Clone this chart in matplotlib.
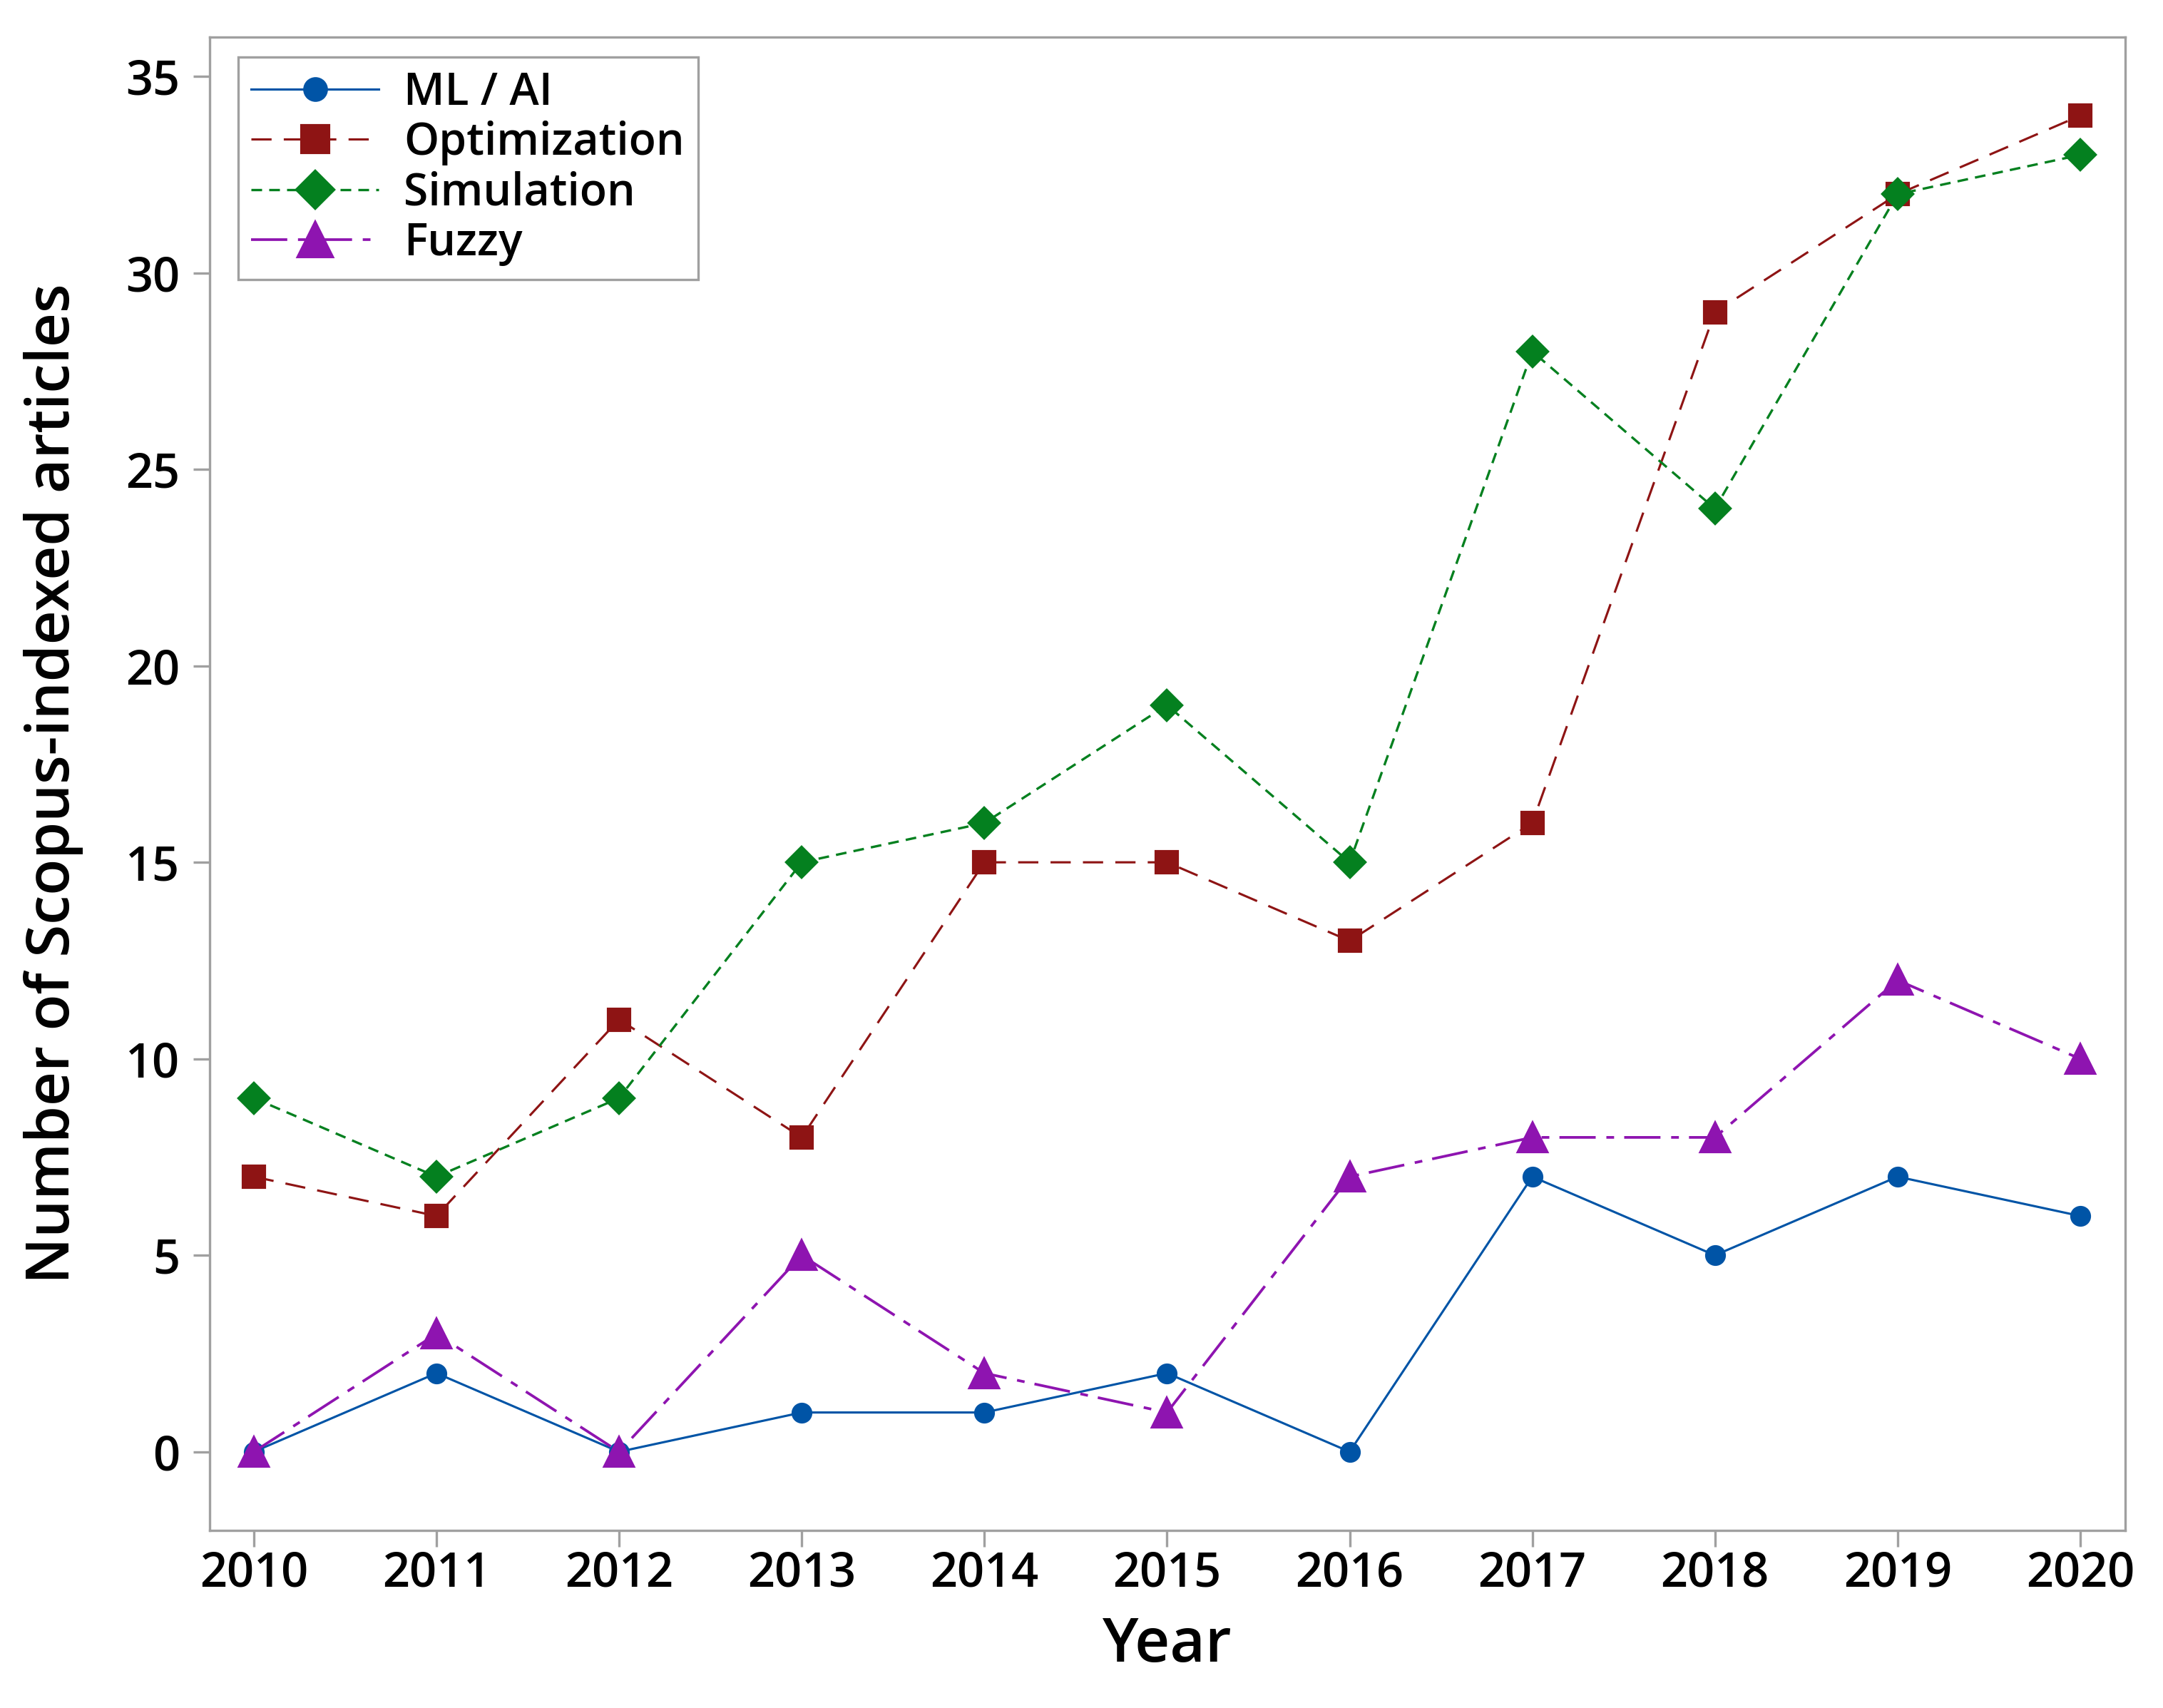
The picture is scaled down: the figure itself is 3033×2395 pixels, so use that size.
import matplotlib
matplotlib.use("Agg")
import matplotlib.pyplot as plt

plt.rcParams['font.family'] = ['Open Sans', 'DejaVu Sans']
plt.rcParams['font.weight'] = 'semibold'
plt.rcParams['axes.labelweight'] = 'semibold'
plt.rcParams['lines.scale_dashes'] = False

years = [2010, 2011, 2012, 2013, 2014, 2015, 2016, 2017, 2018, 2019, 2020]
ml_ai = [0, 2, 0, 1, 1, 2, 0, 7, 5, 7, 6]
optimization = [7, 6, 11, 8, 15, 15, 13, 16, 29, 32, 34]
simulation = [9, 7, 9, 15, 16, 19, 15, 28, 24, 32, 33]
fuzzy = [0, 3, 0, 5, 2, 1, 7, 8, 8, 12, 10]
y_ticks = [0, 5, 10, 15, 20, 25, 30, 35]

grey = '#a0a0a0'

fig = plt.figure(figsize=(3033/300, 2395/300), dpi=300)
ax = fig.add_axes([0.0969, 0.1040, 0.8856, 0.8743])

ax.plot(years, ml_ai, color='#0054a6', lw=0.75, ls='-',
        marker='o', ms=6, label='ML / AI')
ax.plot(years, optimization, color='#8e1414', lw=0.75, ls=(0, (6.8, 4.1)),
        marker='s', ms=7.4, label='Optimization')
ax.plot(years, simulation, color='#04801f', lw=0.8, ls=(0, (3.6, 2.4)),
        marker='D', ms=7.2, label='Simulation')
ax.plot(years, fuzzy, color='#8e14b0', lw=0.9, ls=(0, (12.2, 3.6, 2.6, 3.4)),
        marker='^', ms=9.5, label='Fuzzy')

ax.set_xlim(2009.758, 2020.246)
ax.set_ylim(-2, 36)
ax.set_xticks(years)
ax.set_yticks(y_ticks)

for s in ax.spines.values():
    s.set_color(grey)
    s.set_linewidth(0.8)
ax.tick_params(axis='both', colors=grey, labelcolor='black', width=0.8,
               length=5.6, labelsize=16)
ax.tick_params(axis='x', pad=1)
ax.tick_params(axis='y', pad=4.5)

ax.set_xlabel('Year', fontsize=20.5, labelpad=6)
ax.set_ylabel('Number of Scopus-indexed articles', fontsize=20, labelpad=14)

leg = ax.legend(loc='upper left', bbox_to_anchor=(0.0148, 0.9866),
                borderaxespad=0, fontsize=15, fancybox=False, framealpha=1,
                edgecolor=grey, handlelength=2.86, handletextpad=0.56,
                labelspacing=0.12, borderpad=0.3, markerscale=1.22)
leg.get_frame().set_linewidth(0.8)

fig.savefig('out.png', dpi=300)
